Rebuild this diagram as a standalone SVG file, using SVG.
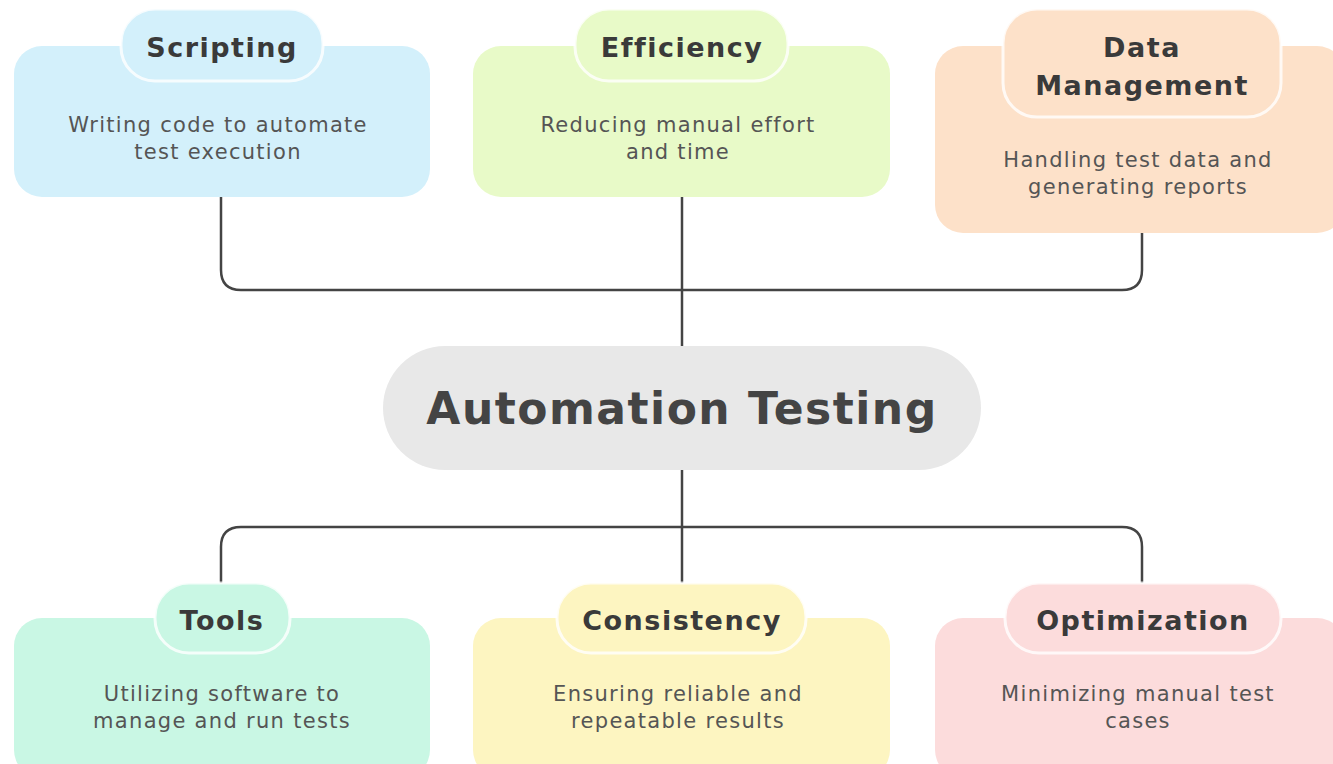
<svg xmlns="http://www.w3.org/2000/svg" width="1333" height="764" viewBox="0 0 1333 764">
<style>
.title{font-family:"DejaVu Sans","Open Sans",sans-serif;font-weight:bold;font-size:27px;letter-spacing:1.5px;fill:#3a3a3a;text-anchor:middle}
.body{font-family:"DejaVu Sans","Open Sans",sans-serif;font-size:21px;letter-spacing:1.3px;fill:#555;text-anchor:middle}
.main{font-family:"DejaVu Sans","Open Sans",sans-serif;font-weight:bold;font-size:44px;letter-spacing:1.5px;fill:#444;text-anchor:middle}
.pill{stroke:#ffffff;stroke-width:3;stroke-opacity:0.8}
.conn{fill:none;stroke:#444;stroke-width:2.5}
</style>
<rect width="1333" height="764" fill="#ffffff"/>
<g id="connectors">
<path class="conn" d="M221 197 V270 Q221 290 241 290 H1122 Q1142 290 1142 270 V233"/>
<path class="conn" d="M682 197 V346"/>
<path class="conn" d="M682 470 V583"/>
<path class="conn" d="M221 583 V547 Q221 527 241 527 H1122 Q1142 527 1142 547 V583"/>
</g>
<g id="scripting">
<rect x="14" y="46" width="416" height="151" rx="28" fill="#d3f0fb"/>
<rect class="pill" x="121" y="9" width="202" height="72" rx="34" fill="#d3f0fb"/>
<text class="title" x="222" y="57">Scripting</text>
<text class="body" x="218" y="132">Writing code to automate</text>
<text class="body" x="218" y="159">test execution</text>
</g>
<g id="efficiency">
<rect x="473" y="46" width="417" height="151" rx="28" fill="#e8fac8"/>
<rect class="pill" x="575" y="9" width="213" height="72" rx="34" fill="#e8fac8"/>
<text class="title" x="682" y="57">Efficiency</text>
<text class="body" x="678" y="132">Reducing manual effort</text>
<text class="body" x="678" y="159">and time</text>
</g>
<g id="data-management">
<rect x="935" y="46" width="410" height="187" rx="28" fill="#fde1c9"/>
<rect class="pill" x="1003" y="9" width="278" height="108" rx="34" fill="#fde1c9"/>
<text class="title" x="1142" y="57">Data</text>
<text class="title" x="1142" y="95">Management</text>
<text class="body" x="1138" y="167">Handling test data and</text>
<text class="body" x="1138" y="194">generating reports</text>
</g>
<g id="automation-testing">
<rect x="383" y="346" width="598" height="124" rx="62" fill="#e8e8e8"/>
<text class="main" x="682" y="424">Automation Testing</text>
</g>
<g id="tools">
<rect x="14" y="618" width="416" height="160" rx="28" fill="#c9f7e4"/>
<rect class="pill" x="155" y="583" width="135" height="70" rx="34" fill="#c9f7e4"/>
<text class="title" x="222" y="630">Tools</text>
<text class="body" x="222" y="701">Utilizing software to</text>
<text class="body" x="222" y="728">manage and run tests</text>
</g>
<g id="consistency">
<rect x="473" y="618" width="417" height="160" rx="28" fill="#fdf5c1"/>
<rect class="pill" x="557" y="583" width="249" height="70" rx="34" fill="#fdf5c1"/>
<text class="title" x="682" y="630">Consistency</text>
<text class="body" x="678" y="701">Ensuring reliable and</text>
<text class="body" x="678" y="728">repeatable results</text>
</g>
<g id="optimization">
<rect x="935" y="618" width="410" height="160" rx="28" fill="#fcdcdc"/>
<rect class="pill" x="1005" y="583" width="276" height="70" rx="34" fill="#fcdcdc"/>
<text class="title" x="1143" y="630">Optimization</text>
<text class="body" x="1138" y="701">Minimizing manual test</text>
<text class="body" x="1138" y="728">cases</text>
</g>
</svg>
